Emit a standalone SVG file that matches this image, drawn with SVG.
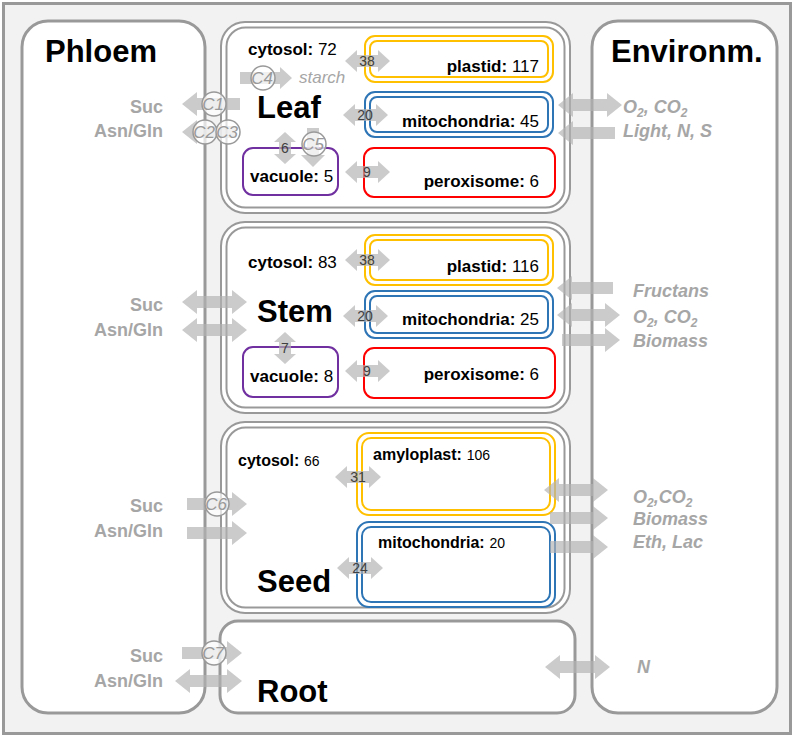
<svg xmlns="http://www.w3.org/2000/svg" width="796" height="739" viewBox="0 0 796 739">
<style>
.frame{fill:#f2f2f2;stroke:#999;stroke-width:3}
.box{fill:#fff;stroke:#999;stroke-width:3}
.cell{fill:#fff;stroke:#999;stroke-width:2}
.cellin{fill:none;stroke:#999;stroke-width:2}
.pl{fill:none;stroke:#ffc000;stroke-width:2}
.mi{fill:none;stroke:#2e75b6;stroke-width:2}
.px{fill:none;stroke:#ff0000;stroke-width:2}
.vc{fill:none;stroke:#7030a0;stroke-width:2}
.ar{fill:#b3b3b3;fill-opacity:0.68}
.title{font-family:"Liberation Sans",Arial,sans-serif;font-weight:bold;font-size:31px;fill:#000}
.organ{font-family:"Liberation Sans",Arial,sans-serif;font-weight:bold;font-size:31px;fill:#000}
.lbl{font-family:"Liberation Sans",Arial,sans-serif;font-size:17px;fill:#000}
.b{font-weight:bold}
.num{font-family:"Liberation Sans",Arial,sans-serif;font-size:14px;fill:#404040;text-anchor:middle}
.ph{font-family:"Liberation Sans",Arial,sans-serif;font-weight:bold;font-size:18px;fill:#a6a6a6;text-anchor:end}
.env{font-family:"Liberation Sans",Arial,sans-serif;font-weight:bold;font-style:italic;font-size:18px;fill:#a6a6a6}
.cc{fill:#fff;fill-opacity:0.7;stroke:#999;stroke-width:1.5}
.ct{font-family:"Liberation Sans",Arial,sans-serif;font-style:italic;font-size:17px;fill:#999;text-anchor:middle}
.st{font-family:"Liberation Sans",Arial,sans-serif;font-style:italic;font-size:17px;fill:#a6a6a6}
</style>
<rect class="frame" x="3.5" y="3.5" width="787" height="730"/>

<g id="phloem">
<rect class="box" x="22" y="21" width="183" height="692" rx="26"/>
<text class="title" x="45" y="62">Phloem</text>
<text class="ph" x="163" y="113">Suc</text>
<text class="ph" x="163" y="137">Asn/Gln</text>
<text class="ph" x="163" y="311">Suc</text>
<text class="ph" x="163" y="336">Asn/Gln</text>
<text class="ph" x="163" y="512">Suc</text>
<text class="ph" x="163" y="537">Asn/Gln</text>
<text class="ph" x="163" y="662">Suc</text>
<text class="ph" x="163" y="687">Asn/Gln</text>
</g>

<g id="environment">
<rect class="box" x="592" y="21" width="185" height="692" rx="26"/>
<text class="title" x="611" y="62">Environm.</text>
<text class="env" x="623" y="113">O<tspan font-size="12" dy="4">2</tspan><tspan dy="-4">, CO</tspan><tspan font-size="12" dy="4">2</tspan></text>
<text class="env" x="623" y="137">Light, N, S</text>
<text class="env" x="633" y="297">Fructans</text>
<text class="env" x="633" y="323">O<tspan font-size="12" dy="4">2</tspan><tspan dy="-4">, CO</tspan><tspan font-size="12" dy="4">2</tspan></text>
<text class="env" x="633" y="347">Biomass</text>
<text class="env" x="633" y="503">O<tspan font-size="12" dy="4">2</tspan><tspan dy="-4">,CO</tspan><tspan font-size="12" dy="4">2</tspan></text>
<text class="env" x="633" y="525">Biomass</text>
<text class="env" x="633" y="548">Eth, Lac</text>
<text class="env" x="637" y="673" font-size="16">N</text>
</g>

<g id="leaf">
<rect class="cell" x="221" y="22" width="349" height="191" rx="24"/>
<rect class="cellin" x="226.5" y="27.5" width="338" height="180" rx="19"/>
<text class="organ" x="257" y="118">Leaf</text>
<text class="lbl" x="248" y="55"><tspan class="b">cytosol:</tspan> 72</text>
<text class="st" x="299" y="83">starch</text>
<g id="leaf-plastid">
<rect class="pl" x="365" y="36" width="188" height="46" rx="10"/>
<rect class="pl" x="370" y="41" width="178" height="36" rx="7"/>
<text class="lbl" x="539" y="72" text-anchor="end"><tspan class="b">plastid:</tspan> 117</text>
</g>
<g id="leaf-mitochondria">
<rect class="mi" x="365" y="92" width="188" height="45" rx="10"/>
<rect class="mi" x="370" y="97" width="178" height="35" rx="7"/>
<text class="lbl" x="539" y="127" text-anchor="end"><tspan class="b">mitochondria:</tspan> 45</text>
</g>
<g id="leaf-peroxisome">
<rect class="px" x="364" y="148" width="191" height="49" rx="10"/>
<text class="lbl" x="539" y="187" text-anchor="end"><tspan class="b">peroxisome:</tspan> 6</text>
</g>
<g id="leaf-vacuole">
<rect class="vc" x="243" y="148" width="95" height="47" rx="10"/>
<text class="lbl" x="250" y="182"><tspan class="b">vacuole:</tspan> 5</text>
</g>
</g>

<g id="stem">
<rect class="cell" x="221" y="222" width="349" height="191" rx="24"/>
<rect class="cellin" x="226.5" y="227.5" width="338" height="180" rx="19"/>
<text class="organ" x="257" y="322">Stem</text>
<text class="lbl" x="248" y="268"><tspan class="b">cytosol:</tspan> 83</text>
<g id="stem-plastid">
<rect class="pl" x="365" y="235" width="188" height="50" rx="10"/>
<rect class="pl" x="370" y="240" width="178" height="40" rx="7"/>
<text class="lbl" x="539" y="272" text-anchor="end"><tspan class="b">plastid:</tspan> 116</text>
</g>
<g id="stem-mitochondria">
<rect class="mi" x="365" y="291" width="188" height="47" rx="10"/>
<rect class="mi" x="370" y="296" width="178" height="37" rx="7"/>
<text class="lbl" x="539" y="325" text-anchor="end"><tspan class="b">mitochondria:</tspan> 25</text>
</g>
<g id="stem-peroxisome">
<rect class="px" x="364" y="348" width="191" height="50" rx="10"/>
<text class="lbl" x="539" y="380" text-anchor="end"><tspan class="b">peroxisome:</tspan> 6</text>
</g>
<g id="stem-vacuole">
<rect class="vc" x="243" y="347" width="95" height="50" rx="10"/>
<text class="lbl" x="250" y="382"><tspan class="b">vacuole:</tspan> 8</text>
</g>
</g>

<g id="seed">
<rect class="cell" x="221" y="422" width="349" height="191" rx="24"/>
<rect class="cellin" x="226.5" y="427.5" width="338" height="180" rx="19"/>
<text class="organ" x="257" y="592">Seed</text>
<text class="lbl" x="238" y="466"><tspan class="b" font-size="16">cytosol:</tspan> <tspan font-size="14">66</tspan></text>
<g id="seed-amyloplast">
<rect class="pl" x="357" y="433" width="198" height="82" rx="12"/>
<rect class="pl" x="362" y="438" width="188" height="72" rx="9"/>
<text class="lbl" x="373" y="460"><tspan class="b" font-size="16">amyloplast:</tspan> <tspan font-size="14">106</tspan></text>
</g>
<g id="seed-mitochondria">
<rect class="mi" x="357" y="522" width="198" height="85" rx="12"/>
<rect class="mi" x="362" y="527" width="188" height="75" rx="9"/>
<text class="lbl" x="378" y="548"><tspan class="b" font-size="16">mitochondria:</tspan> <tspan font-size="14">20</tspan></text>
</g>
</g>

<g id="root">
<rect class="box" x="220" y="621" width="355" height="92" rx="18"/>
<text class="organ" x="257" y="702">Root</text>
</g>

<g id="connectors">
<polygon class="ar" points="345,61 357,50 357,55 378,55 378,50 390,61 378,72 378,67 357,67 357,72"/>
<polygon class="ar" points="343,115 355,104 355,109 376,109 376,104 388,115 376,126 376,121 355,121 355,126"/>
<polygon class="ar" points="345,172 357,161 357,166 378,166 378,161 390,172 378,183 378,178 357,178 357,183"/>
<polygon class="ar" points="345,260 357,249 357,254 378,254 378,249 390,260 378,271 378,266 357,266 357,271"/>
<polygon class="ar" points="343,316 355,305 355,310 376,310 376,305 388,316 376,327 376,322 355,322 355,327"/>
<polygon class="ar" points="345,371 357,360 357,365 378,365 378,360 390,371 378,382 378,377 357,377 357,382"/>
<polygon class="ar" points="335,477 347,466 347,471 369,471 369,466 381,477 369,488 369,483 347,483 347,488"/>
<polygon class="ar" points="337,568 349,557 349,562 371,562 371,557 383,568 371,579 371,574 349,574 349,579"/>
<polygon class="ar" points="285,132 296,142 291,142 291,154 296,154 285,164 274,154 279,154 279,142 274,142"/>
<polygon class="ar" points="285,332 296,342 291,342 291,354 296,354 285,364 274,354 279,354 279,342 274,342"/>
<polygon class="ar" points="307,128 319,128 319,155 325,155 313,167 301,155 307,155"/>
<polygon class="ar" points="240,72 280,72 280,67 292,78 280,89 280,84 240,84"/>
<polygon class="ar" points="182,104 197,92 197,98 240,98 240,110 197,110 197,116"/>
<polygon class="ar" points="182,132 197,120 197,126 236,126 236,138 197,138 197,144"/>
<polygon class="ar" points="558,105 573,93 573,99 607,99 607,93 622,105 607,117 607,111 573,111 573,117"/>
<polygon class="ar" points="558,133 573,121 573,127 615,127 615,139 573,139 573,145"/>
<polygon class="ar" points="182,302 197,290 197,296 232,296 232,290 247,302 232,314 232,308 197,308 197,314"/>
<polygon class="ar" points="182,330 197,318 197,324 232,324 232,318 247,330 232,342 232,336 197,336 197,342"/>
<polygon class="ar" points="557,288 572,276 572,282 613,282 613,294 572,294 572,300"/>
<polygon class="ar" points="557,315 572,303 572,309 605,309 605,303 620,315 605,327 605,321 572,321 572,327"/>
<polygon class="ar" points="562,334 605,334 605,328 620,340 605,352 605,346 562,346"/>
<polygon class="ar" points="187,498 232,498 232,492 247,504 232,516 232,510 187,510"/>
<polygon class="ar" points="187,527 232,527 232,521 247,533 232,545 232,539 187,539"/>
<polygon class="ar" points="544,490 559,478 559,484 593,484 593,478 608,490 593,502 593,496 559,496 559,502"/>
<polygon class="ar" points="550,512 593,512 593,506 608,518 593,530 593,524 550,524"/>
<polygon class="ar" points="550,541 593,541 593,535 608,547 593,559 593,553 550,553"/>
<polygon class="ar" points="182,647 227,647 227,641 242,653 227,665 227,659 182,659"/>
<polygon class="ar" points="175,681 190,669 190,675 227,675 227,669 242,681 227,693 227,687 190,687 190,693"/>
<polygon class="ar" points="545,667 560,655 560,661 595,661 595,655 610,667 595,679 595,673 560,673 560,679"/>
<text class="num" x="367" y="66">38</text>
<text class="num" x="365" y="120">20</text>
<text class="num" x="367" y="177">9</text>
<text class="num" x="367" y="265">38</text>
<text class="num" x="365" y="321">20</text>
<text class="num" x="367" y="376">9</text>
<text class="num" x="358" y="482">31</text>
<text class="num" x="360" y="573">24</text>
<text class="num" x="285" y="153">6</text>
<text class="num" x="285" y="353">7</text>
<circle class="cc" cx="214" cy="104" r="12"/><text class="ct" x="213" y="110">C1</text>
<circle class="cc" cx="205" cy="132" r="12"/><text class="ct" x="204" y="138">C2</text>
<circle class="cc" cx="228" cy="132" r="12"/><text class="ct" x="227" y="138">C3</text>
<circle class="cc" cx="263" cy="78" r="12"/><text class="ct" x="262" y="84">C4</text>
<circle class="cc" cx="314" cy="144" r="12"/><text class="ct" x="313" y="150">C5</text>
<circle class="cc" cx="217" cy="504" r="12"/><text class="ct" x="216" y="510">C6</text>
<circle class="cc" cx="214" cy="653" r="12"/><text class="ct" x="213" y="659">C7</text>
</g>
</svg>
